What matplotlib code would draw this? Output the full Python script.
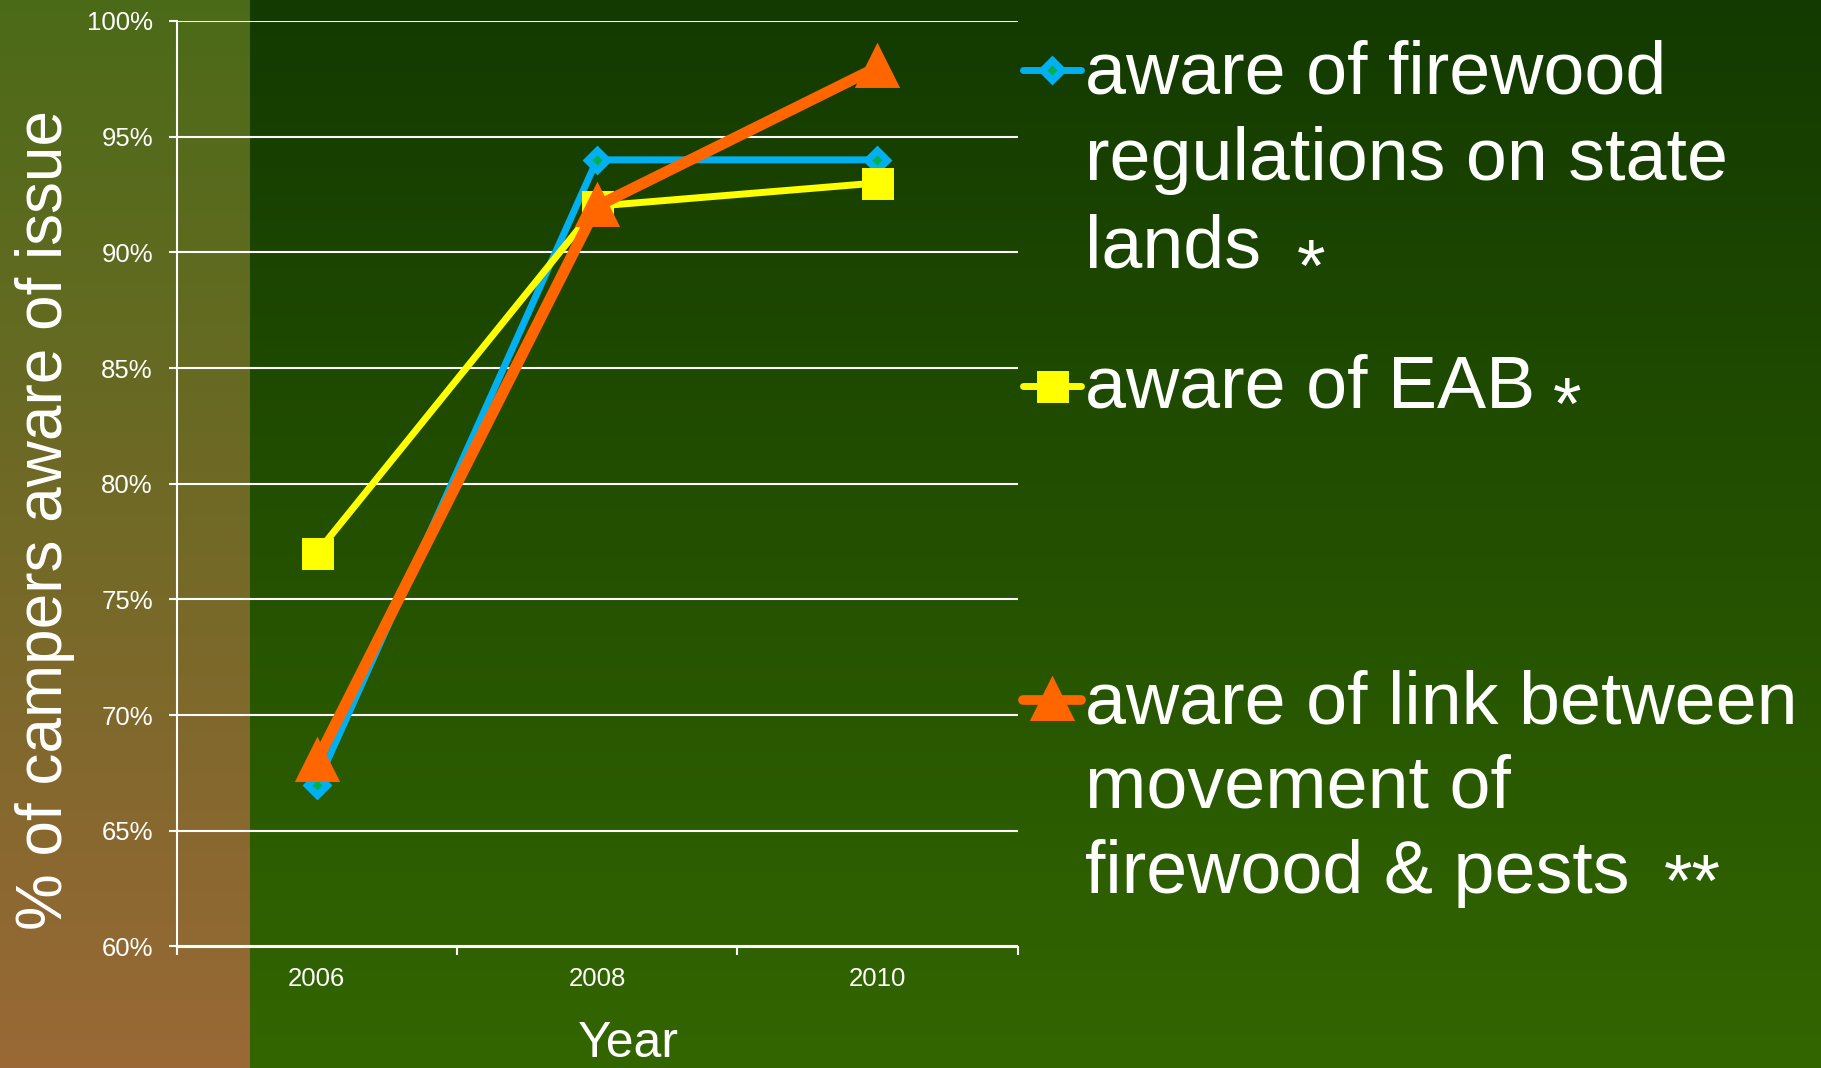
import matplotlib.pyplot as plt
import numpy as np
from matplotlib.lines import Line2D

# data (% of campers aware)
years = ["2006", "2008", "2010"]
firewood_regs = [67, 94, 94]
eab = [77, 92, 93]
link_pests = [68, 92, 98]

y_ticks = [60, 65, 70, 75, 80, 85, 90, 95, 100]

legend_lines = [
    ["aware of firewood", "regulations on state", "lands"],
    ["aware of EAB"],
    ["aware of link between", "movement of", "firewood & pests"],
]
legend_stars = ["*", "*", "**"]

plt.rcParams['font.family'] = ['Liberation Sans', 'DejaVu Sans']

W, H = 1821, 1068
fig = plt.figure(figsize=(W / 100, H / 100), dpi=100)


def fx(px):
    return px / W


def fy(py):
    return 1 - py / H


# background: brown strip on the left, green gradient elsewhere
bg = fig.add_axes([0, 0, 1, 1], zorder=-10)
t = np.linspace(0, 1, H)[:, None, None]
left = (1 - t) * np.array([0x4b, 0x6b, 0x18]) + t * np.array([0x9a, 0x68, 0x36])
right = (1 - t) * np.array([0x13, 0x3a, 0x00]) + t * np.array([0x33, 0x66, 0x00])
img = np.where((np.arange(W) < 250)[None, :, None], left, right) / 255
bg.imshow(img, aspect='auto', extent=(0, 1, 0, 1))
bg.axis('off')

ax = fig.add_axes([fx(176.5), fy(946.5), fx(1017.5) - fx(176.5), fy(21) - fy(946.5)])
ax.patch.set_alpha(0)

x = np.arange(len(years))
style = dict(solid_joinstyle='round', solid_capstyle='round', clip_on=False)
ax.plot(x, firewood_regs, color='#00b0f0', lw=5, marker='D', ms=10,
        mfc='#00b050', mec='#00b0f0', mew=5, zorder=3, **style)
ax.plot(x, eab, color='#ffff00', lw=5, marker='s', ms=18,
        mfc='#ffff00', mec='#ffff00', mew=5, zorder=4, **style)
ax.plot(x, link_pests, color='#ff6600', lw=8, marker='^', ms=25,
        mfc='#ff6600', mec='#ff6600', mew=5, zorder=5, **style)

ax.set_xlim(-0.5, len(years) - 0.5)
ax.set_ylim(60, 100)
ax.set_yticks(y_ticks)
ax.set_yticklabels([f"{v}%" for v in y_ticks])
ax.set_xticks(x)
ax.set_xticklabels(years)
ax.set_xticks(np.arange(len(years) + 1) - 0.5, minor=True)
ax.tick_params(axis='x', which='major', length=0, pad=15, labelsize=18.5, labelcolor='white')
ax.tick_params(axis='x', which='minor', length=6, width=1.5, color='white', direction='out')
ax.tick_params(axis='y', length=6, width=1.5, color='white', direction='out',
               pad=11, labelsize=18.5, labelcolor='white')
ax.grid(axis='y', color='white', lw=1.5)
ax.set_axisbelow(True)
for side in ['top', 'right']:
    ax.spines[side].set_visible(False)
for side in ['left', 'bottom']:
    ax.spines[side].set_color('white')
    ax.spines[side].set_linewidth(1.5)

fig.text(fx(45), fy(520), "% of campers aware of issue", rotation=90,
         ha='center', va='center', fontsize=46, color='white')
fig.text(fx(628), fy(1057), "Year", ha='center', va='baseline',
         fontsize=36, color='white')

# legend drawn by hand
handles = [
    dict(color='#00b0f0', lw=5, marker='D', ms=10, mfc='#00b050', mec='#00b0f0', mew=5),
    dict(color='#ffff00', lw=5, marker='s', ms=18, mfc='#ffff00', mec='#ffff00', mew=5),
    dict(color='#ff6600', lw=7, marker='^', ms=24, mfc='#ff6600', mec='#ff6600', mew=5),
]
handle_y = [70, 386, 700]
baselines = [[94, 180, 267], [408], [723, 808, 893]]
star_pos = [(1297, 291), (1553, 429), (1664, 906)]

for h, hy, lines, bls, star, (sx, sy) in zip(handles, handle_y, legend_lines,
                                             baselines, legend_stars, star_pos):
    fig.add_artist(Line2D([fx(1023), fx(1052), fx(1081)], [fy(hy)] * 3,
                          transform=fig.transFigure, markevery=[1],
                          solid_capstyle='round', **h))
    for txt, bl in zip(lines, bls):
        fig.text(fx(1085), fy(bl), txt, ha='left', va='baseline',
                 fontsize=53, color='white')
    fig.text(fx(sx), fy(sy), star, ha='left', va='baseline',
             fontsize=53, color='white')

fig.savefig("out.png", dpi=100)
